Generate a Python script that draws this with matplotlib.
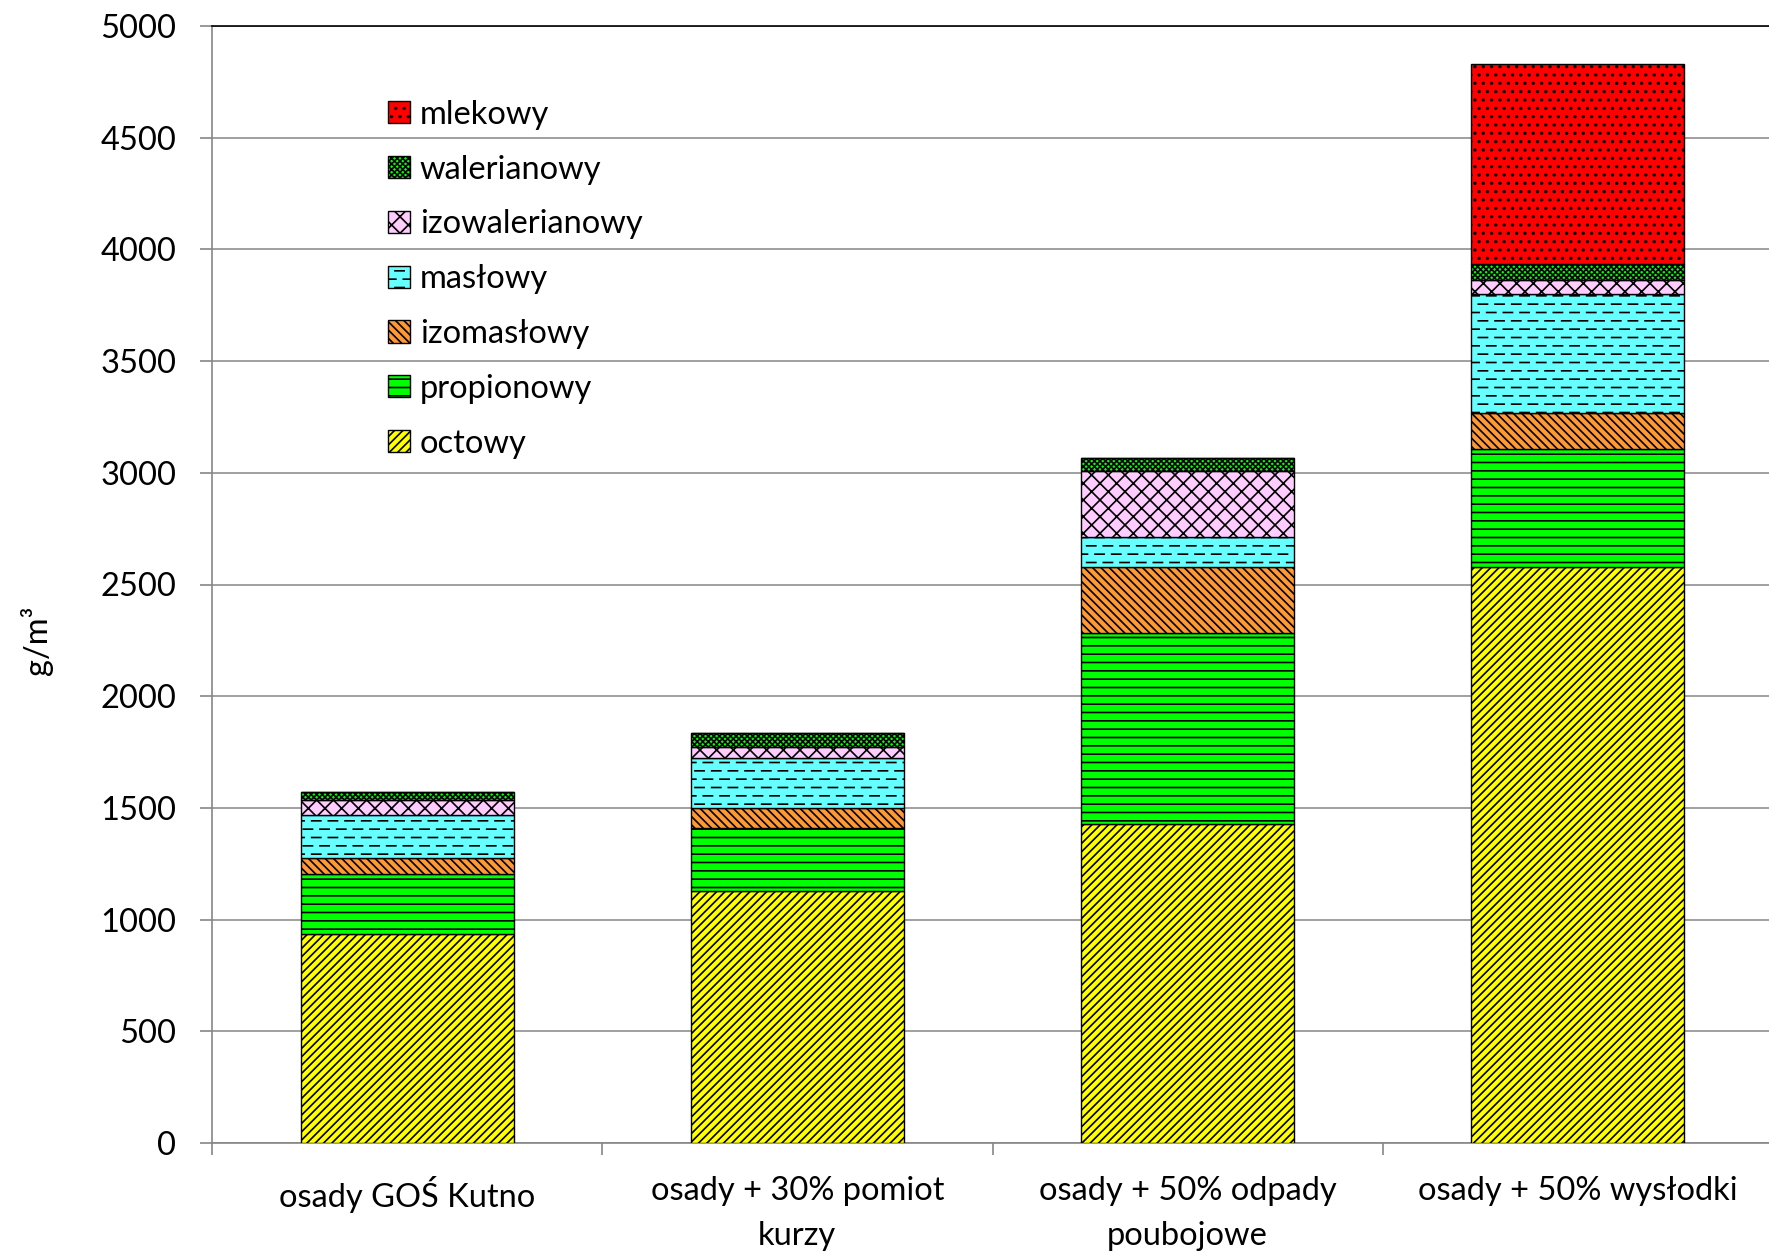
import numpy as np
import matplotlib
matplotlib.use("Agg")
import matplotlib.pyplot as plt
import matplotlib.hatch as mhatch
from matplotlib.path import Path

# ── dane: stężenia LKT [g/m3] w kolejnych wariantach ──
warianty = ["osady GOŚ Kutno", "osady + 30% pomiot\nkurzy",
            "osady + 50% odpady\npoubojowe", "osady + 50% wysłodki"]

octowy = [935, 1129, 1428, 2580]
propionowy = [269, 280, 854, 528]
izomaslowy = [72, 92, 298, 158]
maslowy = [192, 224, 131, 534]
izowalerianowy = [67, 49, 297, 62]
walerianowy = [36, 63, 57, 73]
mlekowy = [0, 0, 0, 896]

nazwy = ["octowy", "propionowy", "izomasłowy", "masłowy",
         "izowalerianowy", "walerianowy", "mlekowy"]
kolory = ["#ffff00", "#00ff00", "#ff9933", "#66ffff",
          "#ffccff", "#00ff00", "#ff0000"]
# 'O' = przerywane poziome kreski (wzór zdefiniowany niżej)
wzory = ["////", "--", "\\\\\\\\", "OO", "xx", "xxxxxx", ".."]


# ── wzór z przerywanych kresek (zastępuje duże kółka 'O') ──
class DashedRows(mhatch.HatchPatternBase):
    def __init__(self, hatch, density):
        self.num_rows = int(hatch.count('O') * density)
        self.segments = []
        if self.num_rows:
            per_row = max(self.num_rows // 2, 1)
            period = 1.0 / per_row
            for i in range(self.num_rows):
                y = (i + 0.5) / self.num_rows
                shift = 0.5 * period * (i % 2)
                for j in range(per_row):
                    x0 = j * period + shift + 0.2 * period
                    if x0 >= 1.0:
                        x0 -= 1.0
                    x1 = x0 + 0.55 * period
                    if x1 <= 1.0:
                        self.segments.append((x0, x1, y))
                    else:
                        self.segments.append((x0, 1.0, y))
                        self.segments.append((0.0, x1 - 1.0, y))
        self.num_vertices = 2 * len(self.segments)

    def set_vertices_and_codes(self, vertices, codes):
        for k, (x0, x1, y) in enumerate(self.segments):
            vertices[2 * k] = (x0, y)
            vertices[2 * k + 1] = (x1, y)
            codes[2 * k] = Path.MOVETO
            codes[2 * k + 1] = Path.LINETO


mhatch._hatch_types = [DashedRows if t is mhatch.LargeCircles else t
                       for t in mhatch._hatch_types]

plt.rcParams['font.family'] = ['Lato', 'DejaVu Sans']
plt.rcParams['font.size'] = 23.5
plt.rcParams['hatch.linewidth'] = 1.2
plt.rcParams['hatch.color'] = 'black'

szary = "#868686"
W, H = 1769, 1257
fig = plt.figure(figsize=(W / 100, H / 100), dpi=100)
ax = fig.add_axes([212 / W, 1 - 1143 / H, (1773 - 212) / W, (1143 - 26) / H])

x = np.arange(len(warianty))
serie = [octowy, propionowy, izomaslowy, maslowy,
         izowalerianowy, walerianowy, mlekowy]
dol = np.zeros(len(warianty))
for wart, nazwa, kol, wz in zip(serie, nazwy, kolory, wzory):
    wart = np.array(wart, dtype=float)
    ax.bar(x, wart, 0.546, bottom=dol, color=kol, edgecolor='black',
           linewidth=1.0, hatch=wz, label=nazwa, zorder=3)
    dol += wart

ax.set_xlim(-0.5, 3.5)
ax.set_ylim(0, 5000)
ax.set_yticks(np.arange(0, 5001, 500))
ax.yaxis.grid(True, color=szary, linewidth=1.1)
ax.set_axisbelow(True)

# kreski na granicach kategorii, podpisy pośrodku
ax.set_xticks(np.arange(-0.5, 4, 1))
ax.set_xticklabels([])
ax.set_xticks(x, minor=True)
ax.set_xticklabels(warianty, minor=True, linespacing=1.62)
ax.tick_params(axis='x', which='major', direction='out', length=8.6,
               width=1.2, color=szary)
ax.tick_params(axis='x', which='minor', length=0, pad=24)
ax.tick_params(axis='y', direction='out', length=8.6, width=1.2,
               color=szary, pad=17)

for s in ['left', 'bottom']:
    ax.spines[s].set_color(szary)
    ax.spines[s].set_linewidth(1.2)
ax.spines['top'].set_color('black')
ax.spines['top'].set_linewidth(1.2)
ax.spines['right'].set_visible(False)

fig.text(37 / W, 1 - 640 / H, "g/m³", rotation=90, ha='center', va='center')

uchwyty, etykiety = ax.get_legend_handles_labels()
ax.legend(uchwyty[::-1], etykiety[::-1], loc='upper left',
          bbox_to_anchor=(0.1127, 0.934), frameon=False, borderpad=0,
          borderaxespad=0, handlelength=0.675, handleheight=0.675,
          handletextpad=0.3, labelspacing=0.76)

fig.savefig("out.png", dpi=100)
